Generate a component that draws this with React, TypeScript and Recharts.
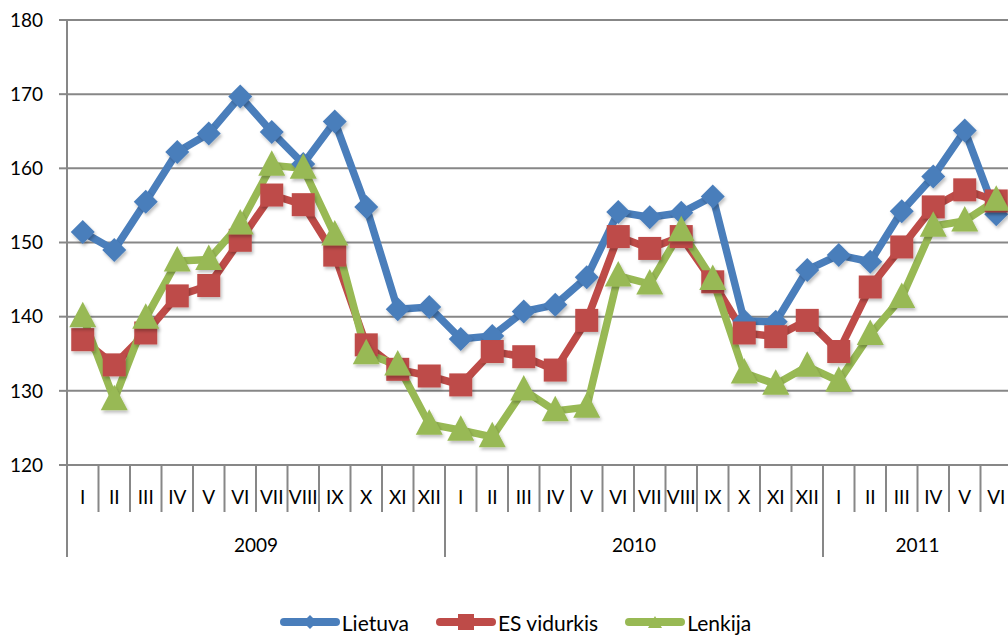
import React from 'react';
import { LineChart, Line, XAxis, YAxis, CartesianGrid, Legend } from 'recharts';

const months = ['I','II','III','IV','V','VI','VII','VIII','IX','X','XI','XII','I','II','III','IV','V','VI','VII','VIII','IX','X','XI','XII','I','II','III','IV','V','VI'];
const years = ['2009','2009','2009','2009','2009','2009','2009','2009','2009','2009','2009','2009','2010','2010','2010','2010','2010','2010','2010','2010','2010','2010','2010','2010','2011','2011','2011','2011','2011','2011'];
const lietuva = [151.4,149.0,155.5,162.2,164.7,169.7,164.9,160.6,166.3,154.8,141.0,141.3,137.0,137.4,140.7,141.6,145.3,154.1,153.4,154.0,156.2,139.4,139.3,146.3,148.3,147.4,154.2,158.9,165.1,153.8];
const esVidurkis = [136.9,133.5,137.8,142.8,144.2,150.3,156.4,155.1,148.3,136.2,132.9,132.0,130.8,135.3,134.6,132.8,139.5,150.8,149.2,150.8,144.7,137.8,137.3,139.5,135.3,144.0,149.4,154.8,157.1,155.6];
const lenkija = [140.0,128.8,139.8,147.5,147.7,152.5,160.4,160.0,151.0,135.0,133.5,125.5,124.7,123.8,130.1,127.3,127.8,145.5,144.4,151.6,145.0,132.4,130.9,133.3,131.3,137.6,142.6,152.2,152.9,155.7];
const yTicks = [120,130,140,150,160,170,180];

const data = months.map((m, i) => ({
  key: years[i] + '-' + m,
  month: m,
  year: years[i],
  lietuva: lietuva[i],
  es: esVidurkis[i],
  lenkija: lenkija[i],
}));

const BLUE = '#4A7EBB';
const RED = '#BE4B48';
const GREEN = '#98B954';
const GRID = '#878787';
const FONT = 'Lato, "Open Sans", sans-serif';

const CHART_W = 1030;
const CHART_H = 635;
const PLOT_LEFT = 67;
const PLOT_RIGHT = 1012;
const PLOT_BOTTOM = 465;
const BAND = (PLOT_RIGHT - PLOT_LEFT) / months.length;

const Diamond = (props: any) => {
  const { cx, cy } = props;
  if (cx == null || cy == null) return null;
  const r = 12;
  return <polygon filter="url(#mkShadow)" points={`${cx},${cy - r} ${cx + r},${cy} ${cx},${cy + r} ${cx - r},${cy}`} fill={BLUE} />;
};
const Square = (props: any) => {
  const { cx, cy } = props;
  if (cx == null || cy == null) return null;
  const r = 11.5;
  return <rect filter="url(#mkShadow)" x={cx - r} y={cy - r} width={2 * r} height={2 * r} fill={RED} />;
};
const Triangle = (props: any) => {
  const { cx, cy } = props;
  if (cx == null || cy == null) return null;
  return <polygon filter="url(#mkShadow)" points={`${cx},${cy - 15} ${cx + 13.5},${cy + 10.5} ${cx - 13.5},${cy + 10.5}`} fill={GREEN} />;
};

const MonthTick = (props: any) => {
  const { x, payload } = props;
  const i = payload.index;
  const left = x - BAND / 2;
  const isFirst = i === 0 || years[i] !== years[i - 1];
  const n = years.filter((y) => y === years[i]).length;
  return (
    <g>
      <line x1={left} x2={left} y1={PLOT_BOTTOM} y2={isFirst ? 557 : 512} stroke={GRID} strokeWidth={2} />
      <text x={x} y={496} textAnchor="middle" dominantBaseline="central" fontSize={19} fontFamily={FONT} fill="#000">
        {months[i]}
      </text>
      {isFirst && (
        <text x={left + (n * BAND) / 2} y={544} textAnchor="middle" dominantBaseline="central" fontSize={19} fontFamily={FONT} fill="#000">
          {years[i]}
        </text>
      )}
    </g>
  );
};

const LegendIcon = ({ color, kind }: { color: string; kind: string }) => (
  <svg width={62} height={20} style={{ display: 'block' }}>
    <line x1={5} x2={57} y1={10} y2={10} stroke={color} strokeWidth={8} strokeLinecap="round" />
    {kind === 'diamond' && <polygon points="31,3 38,10 31,17 24,10" fill={color} />}
    {kind === 'square' && <rect x={23} y={2} width={16} height={16} fill={color} />}
    {kind === 'triangle' && <polygon points="31,4 38,16 24,16" fill={color} />}
  </svg>
);

const legendItems = [
  { label: 'Lietuva', color: BLUE, kind: 'diamond' },
  { label: 'ES vidurkis', color: RED, kind: 'square' },
  { label: 'Lenkija', color: GREEN, kind: 'triangle' },
];

const LegendContent = () => (
  <div style={{ position: 'relative', top: 7, display: 'flex', justifyContent: 'center', alignItems: 'center', height: 40, paddingLeft: 22, fontFamily: FONT, fontSize: 21, color: '#000' }}>
    {legendItems.map((it, k) => (
      <div key={it.label} style={{ display: 'flex', alignItems: 'center', marginRight: k < 2 ? 26 : 0 }}>
        <LegendIcon color={it.color} kind={it.kind} />
        <span style={{ marginLeft: 1 }}>{it.label}</span>
      </div>
    ))}
  </div>
);

export default function App() {
  return (
    <div style={{ position: 'absolute', left: 0, top: 0, width: 1008, height: 635, overflow: 'hidden', background: '#fff' }}>
      <svg width={0} height={0} style={{ position: 'absolute' }}>
        <defs>
          <filter id="mkShadow" x="-50%" y="-50%" width="200%" height="200%">
            <feDropShadow dx={1.5} dy={2.5} stdDeviation={1.5} floodColor="#000" floodOpacity={0.25} />
          </filter>
        </defs>
      </svg>
      <LineChart width={CHART_W} height={CHART_H} data={data} margin={{ top: 20, right: CHART_W - PLOT_RIGHT, left: 0, bottom: 0 }}>
        <CartesianGrid horizontal vertical={false} stroke={GRID} strokeWidth={2} />
        <XAxis
          dataKey="key"
          interval={0}
          height={130}
          tickLine={false}
          padding={{ left: BAND / 2, right: BAND / 2 }}
          axisLine={{ stroke: GRID, strokeWidth: 2 }}
          tick={<MonthTick />}
        />
        <YAxis
          width={PLOT_LEFT}
          domain={[120, 180]}
          ticks={yTicks}
          interval={0}
          tickSize={8}
          tickMargin={16}
          axisLine={{ stroke: GRID, strokeWidth: 2 }}
          tickLine={{ stroke: GRID, strokeWidth: 2 }}
          tick={{ fontSize: 19, fontFamily: FONT, fill: '#000' }}
        />
        <Legend verticalAlign="bottom" height={40} content={<LegendContent />} wrapperStyle={{ left: 0, width: 1008, bottom: 0 }} />
        <Line type="linear" dataKey="lietuva" name="Lietuva" stroke={BLUE} strokeWidth={7.5} dot={<Diamond />} activeDot={false} isAnimationActive={false} />
        <Line type="linear" dataKey="es" name="ES vidurkis" stroke={RED} strokeWidth={7.5} dot={<Square />} activeDot={false} isAnimationActive={false} />
        <Line type="linear" dataKey="lenkija" name="Lenkija" stroke={GREEN} strokeWidth={7.5} dot={<Triangle />} activeDot={false} isAnimationActive={false} />
      </LineChart>
    </div>
  );
}
